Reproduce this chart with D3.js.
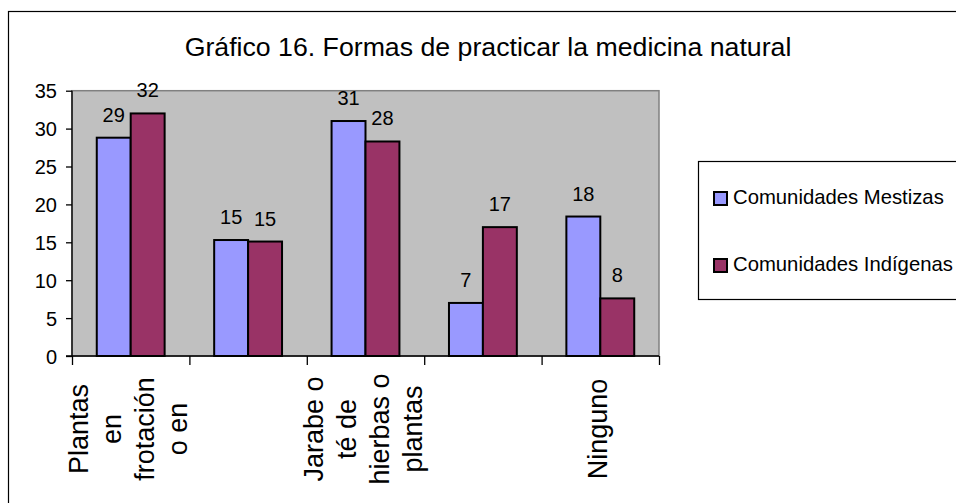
<!DOCTYPE html>
<html>
<head>
<meta charset="utf-8">
<script src="https://cdn.jsdelivr.net/npm/d3@7/dist/d3.min.js"></script>
<style>
  body { margin: 0; background: #fff; }
  text { font-family: "Liberation Sans", Arial, sans-serif; fill: #000; }
</style>
</head>
<body>
<svg width="956" height="503"></svg>
<script>
// data
let categoryLines = [
    ['Plantas', 'en', 'frotación', 'o en'],
    [],
    ['Jarabe o', 'té de', 'hierbas o', 'plantas'],
    [],
    ['Ninguno']
]
let seriesNames = ['Comunidades Mestizas', 'Comunidades Indígenas']
let mestizas = [28.8, 15.3, 31, 7, 18.4]
let indigenas = [32, 15.1, 28.3, 17, 7.6]
let yTicks = [0, 5, 10, 15, 20, 25, 30, 35]
let colors = ['#9999ff', '#993366']

let svg = d3.select('svg')
let plot = {left: 72, right: 659, top: 90.7, bottom: 356}

// outer frame
svg.append('rect')
    .attr('x', 8.5).attr('y', 11.5)
    .attr('width', 1000).attr('height', 1000)
    .attr('fill', '#fff').attr('stroke', '#000').attr('stroke-width', 1.2)

svg.append('text')
    .attr('x', 488).attr('y', 56)
    .attr('text-anchor', 'middle')
    .style('font-size', '26.7px')
    .text('Gráfico 16. Formas de practicar la medicina natural')

let idx = d3.range(categoryLines.length)
let x0 = d3.scaleBand().domain(idx).range([plot.left, plot.right]).paddingInner(0)
let x1 = d3.scaleBand().domain([0, 1]).range([0, x0.bandwidth()]).paddingOuter(0.73)
let y = d3.scaleLinear().domain([0, 35]).range([plot.bottom, plot.top])

// plot area
svg.append('rect')
    .attr('x', plot.left).attr('y', plot.top)
    .attr('width', plot.right - plot.left).attr('height', plot.bottom - plot.top)
    .attr('fill', '#c0c0c0').attr('stroke', '#808080').attr('stroke-width', 1.5)

let rows = idx.map(i => [mestizas[i], indigenas[i]])

let groups = svg.selectAll('g.cat')
    .data(rows)
    .join('g')
    .attr('class', 'cat')
    .attr('transform', (d, i) => 'translate(' + x0(i) + ',0)')

groups.selectAll('rect')
    .data(d => d)
    .join('rect')
    .attr('x', (d, j) => x1(j))
    .attr('y', d => y(d))
    .attr('width', x1.bandwidth())
    .attr('height', d => y(0) - y(d))
    .attr('fill', (d, j) => colors[j])
    .attr('stroke', '#000')
    .attr('stroke-width', 2)

groups.selectAll('text')
    .data(d => d)
    .join('text')
    .attr('x', (d, j) => x1(j) + x1.bandwidth() / 2)
    .attr('y', d => y(d) - 16)
    .attr('text-anchor', 'middle')
    .style('font-size', '20px')
    .text(d => d3.format('.0f')(d))

// y axis
let yAxis = svg.append('g')
    .attr('transform', 'translate(' + plot.left + ',0)')
    .call(d3.axisLeft(y).tickValues(yTicks).tickSize(6).tickPadding(9))
yAxis.selectAll('text').style('font-size', '20px').attr('dy', '0.36em')
yAxis.selectAll('line, path').attr('stroke', '#000').attr('stroke-width', 1.3)
yAxis.select('.domain').attr('d', 'M-6,' + plot.bottom + 'H0V' + plot.top)

// x axis: ticks at category boundaries
let xb = d3.scaleLinear().domain([0, categoryLines.length]).range([plot.left, plot.right])
let xAxis = svg.append('g')
    .attr('transform', 'translate(0,' + plot.bottom + ')')
    .call(d3.axisBottom(xb).ticks(5).tickSize(9).tickFormat(''))
xAxis.selectAll('line, path').attr('stroke', '#000').attr('stroke-width', 1.3)
xAxis.select('.domain').attr('d', 'M' + plot.left + ',0H' + plot.right)

// category labels (rotated, wrapped)
let lab = svg.selectAll('g.lab')
    .data(categoryLines)
    .join('g')
    .attr('class', 'lab')
    .attr('transform', (d, i) => 'translate(' + (x0(i) + x0.bandwidth() / 2 - 2) + ',429) rotate(-90)')

lab.selectAll('text')
    .data(d => d.map((t, k) => ({t: t, k: k, n: d.length})))
    .join('text')
    .attr('x', 0)
    .attr('y', d => 9 + (d.k - (d.n - 1) / 2) * 33)
    .attr('text-anchor', 'middle')
    .style('font-size', '27px')
    .text(d => d.t)

// legend
let legend = svg.append('g')
legend.append('rect')
    .attr('x', 698.5).attr('y', 161.5)
    .attr('width', 300).attr('height', 138)
    .attr('fill', '#fff').attr('stroke', '#000').attr('stroke-width', 1.2)

let items = legend.selectAll('g.item')
    .data(seriesNames)
    .join('g')
    .attr('class', 'item')
    .attr('transform', (d, i) => 'translate(0,' + (i * 67) + ')')

items.append('rect')
    .attr('x', 714).attr('y', 192)
    .attr('width', 13).attr('height', 13)
    .attr('fill', (d, i) => colors[i])
    .attr('stroke', '#000').attr('stroke-width', 2)

items.append('text')
    .attr('x', 733).attr('y', 204)
    .style('font-size', '20.3px')
    .text(d => d)
</script>
</body>
</html>
